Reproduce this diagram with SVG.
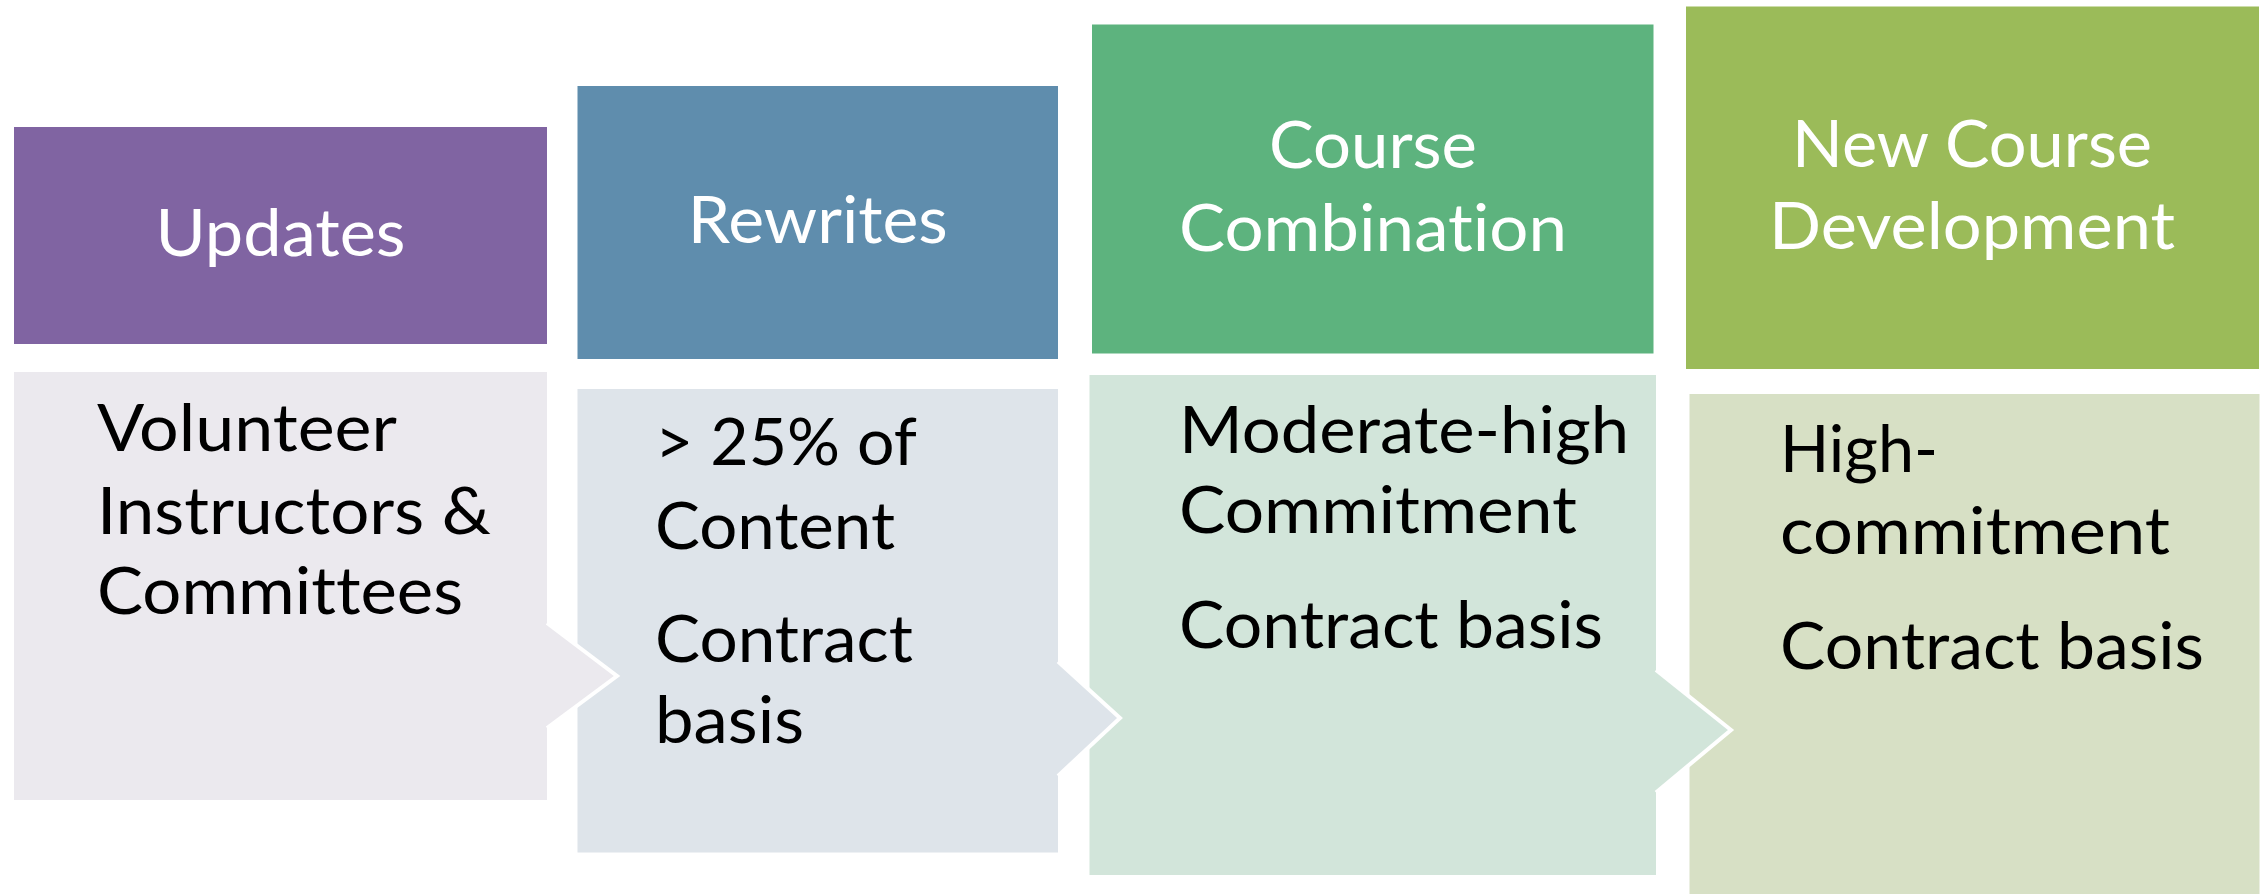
<svg xmlns="http://www.w3.org/2000/svg" width="2262" height="894" viewBox="0 0 2262 894">
<style>
.hd{font-family:"Lato","Open Sans","Liberation Sans",sans-serif;font-size:66px;fill:#ffffff;text-anchor:middle;font-variant-ligatures:none;font-feature-settings:"liga" 0}
.bd{font-family:"Lato","Open Sans","Liberation Sans",sans-serif;font-size:66px;fill:#000000;font-variant-ligatures:none;font-feature-settings:"liga" 0}
.chev{fill:none;stroke:#ffffff;stroke-width:4;stroke-linejoin:miter}
</style>
<rect width="2262" height="894" fill="#ffffff"/>
<g id="node-new-course">
  <rect x="1686" y="6.5" width="573" height="362.5" fill="#9BBB59"/>
  <text class="hd" x="1972" y="167" textLength="360" lengthAdjust="spacingAndGlyphs">New Course</text>
  <text class="hd" x="1972" y="249" textLength="406" lengthAdjust="spacingAndGlyphs">Development</text>
  <rect x="1689.5" y="394" width="570" height="500" fill="#D7E0C5"/>
  <text class="bd" x="1780" y="471.5" textLength="158" lengthAdjust="spacingAndGlyphs">High-</text>
  <text class="bd" x="1780" y="554" textLength="390" lengthAdjust="spacingAndGlyphs">commitment</text>
  <text class="bd" x="1780" y="669" textLength="424" lengthAdjust="spacingAndGlyphs">Contract basis</text>
</g>
<g id="node-course-combination">
  <rect x="1092" y="24.5" width="561.5" height="329" fill="#5DB37E"/>
  <text class="hd" x="1373" y="168" textLength="208" lengthAdjust="spacingAndGlyphs">Course</text>
  <text class="hd" x="1373" y="251" textLength="388" lengthAdjust="spacingAndGlyphs">Combination</text>
  <rect x="1089.5" y="375" width="566.5" height="500" fill="#D2E5DA"/>
  <text class="bd" x="1179" y="453" textLength="450" lengthAdjust="spacingAndGlyphs">Moderate-high</text>
  <text class="bd" x="1179" y="533" textLength="398" lengthAdjust="spacingAndGlyphs">Commitment</text>
  <text class="bd" x="1179" y="648" textLength="424" lengthAdjust="spacingAndGlyphs">Contract basis</text>
</g>
<g id="node-rewrites">
  <rect x="577.5" y="86" width="480.5" height="273" fill="#5F8DAD"/>
  <text class="hd" x="817.8" y="243" textLength="260" lengthAdjust="spacingAndGlyphs">Rewrites</text>
  <rect x="577.5" y="389" width="480.5" height="463.5" fill="#DEE4EA"/>
  <text class="bd" x="655" y="465" textLength="262" lengthAdjust="spacingAndGlyphs">&gt; 25% of</text>
  <text class="bd" x="655" y="549" textLength="240" lengthAdjust="spacingAndGlyphs">Content</text>
  <text class="bd" x="655" y="661.5" textLength="258" lengthAdjust="spacingAndGlyphs">Contract</text>
  <text class="bd" x="655" y="742.5" textLength="149" lengthAdjust="spacingAndGlyphs">basis</text>
</g>
<g id="node-updates">
  <rect x="14" y="127" width="533" height="217" fill="#8064A2"/>
  <text class="hd" x="280.5" y="256" textLength="250" lengthAdjust="spacingAndGlyphs">Updates</text>
  <rect x="14" y="372" width="533" height="428" fill="#EBE9EE"/>
  <text class="bd" x="97" y="451" textLength="300" lengthAdjust="spacingAndGlyphs">Volunteer</text>
  <text class="bd" x="97" y="534" textLength="394" lengthAdjust="spacingAndGlyphs">Instructors &amp;</text>
  <text class="bd" x="97" y="614" textLength="366" lengthAdjust="spacingAndGlyphs">Committees</text>
</g>
<g id="connectors">
  <polygon points="1655,670 1732,730 1655,792.5" fill="#D2E5DA"/>
  <polyline class="chev" points="1656,670 1731,730 1656,792.5"/>
  <polygon points="1057,661.5 1121,718 1057,776" fill="#DEE4EA"/>
  <polyline class="chev" points="1058,661.5 1120,718 1058,776"/>
  <polygon points="546,623 618,676 546,728" fill="#EBE9EE"/>
  <polyline class="chev" points="547,623 617,676 547,728"/>
</g>
</svg>
